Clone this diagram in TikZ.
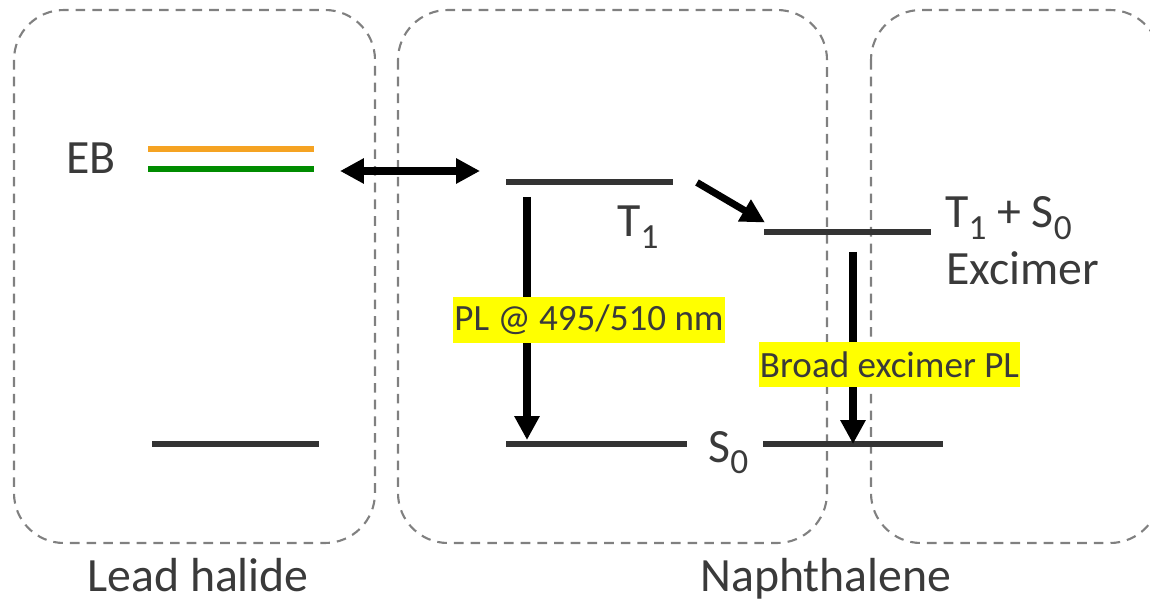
\documentclass[tikz,border=0pt]{standalone}
\usepackage{fontspec}
\setmainfont{Carlito}
\usetikzlibrary{arrows.meta}
\definecolor{txt}{RGB}{58,58,58}
\definecolor{lvl}{RGB}{51,51,51}
\definecolor{boxgray}{RGB}{128,128,128}
\definecolor{ebor}{RGB}{245,163,35}
\definecolor{ebgr}{RGB}{0,140,0}
\definecolor{hl}{RGB}{255,255,0}
% lowered subscript in the text font
\newcommand{\lowsub}[1]{\raisebox{-6.4pt}{\fontsize{20.1}{21}\selectfont #1}}
\begin{document}
\begin{tikzpicture}[x=0.02cm,y=-0.02cm,
  region/.style={draw=boxgray, line width=1.2pt, dash pattern=on 5.5pt off 4pt, rounded corners=1cm},
  level/.style={draw=lvl, line width=3.2pt},
  trans/.style={line width=4pt, -{Triangle[length=13.6pt,width=13.6pt]}},
  both/.style={line width=4pt, {Triangle[length=13.6pt,width=13.6pt]}-{Triangle[length=13.6pt,width=13.6pt]}},
  lbl/.style={text=txt, font=\fontsize{27.2}{31}\selectfont, inner sep=0pt, anchor=base west},
  tag/.style={fill=hl, text=txt, font=\fontsize{21.1}{25}\selectfont, inner sep=0pt}
]
\useasboundingbox (0,0) rectangle (1150,601);
\clip (0,0) rectangle (1150,601);

% material regions
\draw[region] (14,10) rectangle (375,543);
\draw[region] (398,10) rectangle (827,543);
\draw[region] (871,10) rectangle (1160,543);

% lead halide levels
\draw[draw=ebor, line width=3.2pt] (148,149) coordinate (ebOw) -- (314,149) coordinate (ebOe);
\draw[draw=ebgr, line width=3.2pt] (148,169) coordinate (ebGw) -- (314,169) coordinate (ebGe);
\draw[level] (152,444) coordinate (lhw) -- (319,444) coordinate (lhe);

% naphthalene levels
\draw[level] (506,182) coordinate (t1w) -- (673,182) coordinate (t1e);
\draw[level] (506,444) coordinate (s0w) -- (687,444) coordinate (s0e);
\draw[level] (764,232) coordinate (exw) -- (931,232) coordinate (exe);
\draw[level] (763,444) coordinate (s0rw) -- (943,444) coordinate (s0re);

% transition end points
\coordinate (xL) at (340,171);
\coordinate (xR) at (480,171);
\coordinate (pTop) at (527,197);
\coordinate (pBot) at (527,440);
\coordinate (dA) at (697,182.5);
\coordinate (dB) at (765,222.5);
\coordinate (eTop) at (853,252);
\coordinate (eBot) at (853,444);

% transitions
\draw[both] (xL) -- (xR);
\draw[trans] (pTop) -- (pBot);
\draw[trans] (dA) -- (dB);
\draw[trans] (eTop) -- (eBot);

% labels
\node[lbl] (eb) at (66,174) {EB};
\node[lbl] (t1) at (617,237) {T\lowsub{1}};
\node[lbl] (t1s0) at (945,228) {T\lowsub{1} + S\lowsub{0}};
\node[lbl] (exc) at (946,285) {Excimer};
\node[lbl] (s0) at (708,462) {S\lowsub{0}};
\node[lbl] (lead) at (87,591.5) {Lead halide};
\node[lbl] (naph) at (700,591.5) {Naphthalene};

\node[tag, minimum width=5.44cm, minimum height=0.92cm] (pl) at (589,320) {PL @ 495/510 nm};
\node[tag, minimum width=5.22cm, minimum height=0.9cm] (bpl) at (889.5,364.5) {Broad excimer PL};
\end{tikzpicture}
\end{document}
